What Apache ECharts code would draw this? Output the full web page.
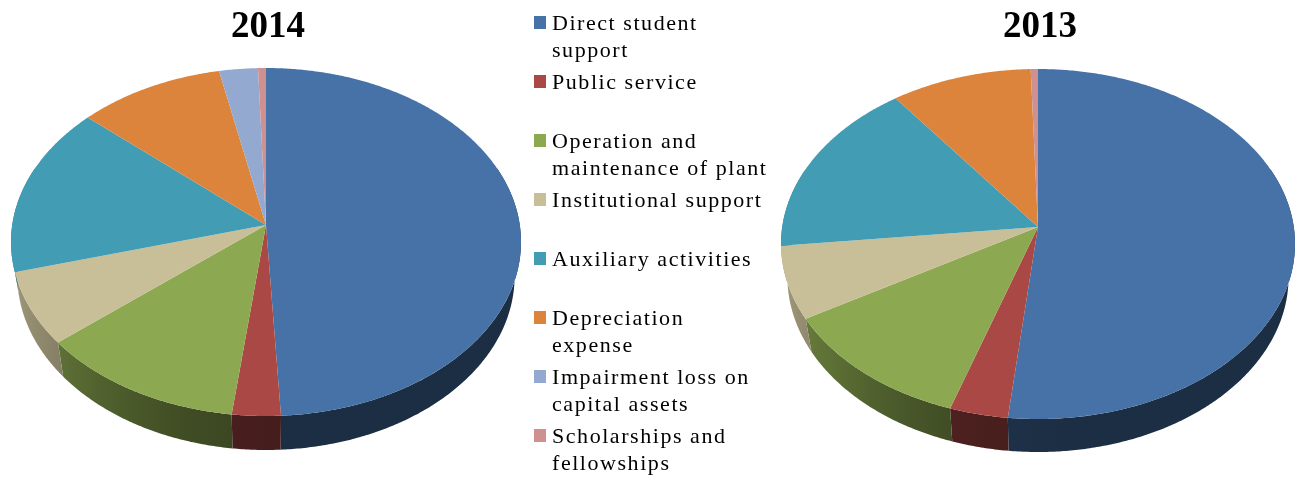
<!DOCTYPE html>
<html><head><meta charset="utf-8">
<style>html,body{margin:0;padding:0;background:#fff}#c{width:1301px;height:477px}</style>
<script src="https://cdn.jsdelivr.net/npm/echarts@6/dist/echarts.min.js"></script>
</head><body><div id="c"></div>
<script>
const categories = ['Direct student support','Public service','Operation and maintenance of plant','Institutional support','Auxiliary activities','Depreciation expense','Impairment loss on capital assets','Scholarships and fellowships'];
const legendLabels = ['Direct student\nsupport','Public service\n ','Operation and\nmaintenance of plant','Institutional support\n ','Auxiliary activities\n ','Depreciation\nexpense','Impairment loss on\ncapital assets','Scholarships and\nfellowships'];
const years = ['2014','2013'];
const values2014 = [49.15,2.8,12.0,6.75,15.85,10.2,2.7,0.55];
const values2013 = [51.7,3.35,11.55,6.7,16.45,9.75,0,0.5];
const colors = ['#4672a8','#a94845','#8ca850','#c8bf98','#429db4','#dd843c','#94a9d0','#cf9090'];
const yearValues = [values2014, values2013];
// geometry of each pie: ellipse apex (ax, ay), half width, upper/lower half heights, wall depth
const pies = [
  {ax:266, ay:225, rx:255, up:157, down:191, depth:34},
  {ax:1038, ay:227, rx:257, up:158, down:192, depth:33}
];
const legendFontSize = 22, legendTracking = '1.55px';
// the legend lettering of the reference is widely tracked: apply it to that font only
(function(){
  const proto=CanvasRenderingContext2D.prototype, d=Object.getOwnPropertyDescriptor(proto,'font');
  Object.defineProperty(proto,'font',{configurable:true,get(){return d.get.call(this);},
    set(v){d.set.call(this,v); this.letterSpacing=String(v).indexOf(legendFontSize+'px')>=0?legendTracking:'0px';}});
})();
function project(p, deg){
  // perspective projection of a circle onto the tilted pie top
  const k=(p.down-p.up)/(p.down+p.up), sy=p.down*(1-k), sx=p.rx*Math.sqrt(1-k*k);
  const t=deg*Math.PI/180, u=Math.sin(t), v=-Math.cos(t), w=1-k*v;
  return [p.ax+sx*u/w, p.ay+sy*v/w];
}
function shade(hex,f){
  const n=parseInt(hex.slice(1),16);
  return 'rgb('+[(n>>16)&255,(n>>8)&255,n&255].map(c=>Math.round(c*f)).join(',')+')';
}
function wallFactor(p,x){
  const n=(x-p.ax)/p.rx;
  return n<0 ? 0.42-0.42*n*Math.abs(n)*0.9 : 0.40;
}
function renderSlice(params, api){
  const d=params.dataIndex, s=params.seriesIndex, vals=yearValues[d], p=pies[d];
  const total=vals.reduce((a,b)=>a+b,0);
  let before=0; for(let i=0;i<s;i++) before+=vals[i];
  const a0=before/total*360, a1=(before+api.value(1))/total*360;
  if(a1<=a0) return {type:'group',children:[]};
  const arc=[]; const steps=Math.max(2,Math.ceil((a1-a0)*2));
  for(let i=0;i<=steps;i++) arc.push(project(p,a0+(a1-a0)*i/steps));
  const children=[];
  // side wall: drawn beneath all tops; the lower rim is slightly narrower so it tapers out at the sides
  const w0=Math.max(a0,70), w1=Math.min(a1,290);
  if(w1>w0){
    const top=[],n=Math.max(2,Math.ceil((w1-w0)*2));
    for(let i=0;i<=n;i++) top.push(project(p,w0+(w1-w0)*i/n));
    const bottom=top.map(q=>[p.ax+(q[0]-p.ax)*0.975,q[1]+p.depth]).reverse();
    const xs=top.map(q=>q[0]), minX=Math.min(...xs), maxX=Math.max(...xs);
    const stops=[0,.25,.5,.75,1].map(o=>({offset:o,color:shade(colors[s],wallFactor(p,minX+(maxX-minX)*o))}));
    children.push({type:'polygon',z2:1,shape:{points:top.concat(bottom)},
      style:{fill:new echarts.graphic.LinearGradient(minX,0,Math.max(maxX,minX+1),0,stops,true)},silent:true});
  }
  children.push({type:'polygon',z2:2,shape:{points:[[p.ax,p.ay]].concat(arc)},style:{fill:colors[s]},silent:true});
  return {type:'group',children};
}
const chart=echarts.init(document.getElementById('c'),null,{renderer:'canvas'});
chart.setOption({
  animation:false,
  backgroundColor:'#fff',
  title:years.map((y,i)=>({text:y,left:i?1035:263,top:4,textAlign:'center',
    textStyle:{fontFamily:'Liberation Serif',fontWeight:'bold',fontSize:37,color:'#000'}})),
  legend:{orient:'vertical',left:534,top:10.5,height:470,padding:0,itemWidth:12,itemHeight:54,itemGap:5,
    icon:'path://M0 5.5H12V18.5H0ZM0 0L12 0ZM0 54L12 54Z',
    data:categories,selectedMode:false,
    formatter:n=>legendLabels[categories.indexOf(n)],
    textStyle:{fontFamily:'Liberation Serif',fontSize:legendFontSize,lineHeight:27,color:'#000',padding:[0,0,0,1]}},
  series:categories.map((c,i)=>({
    type:'custom',name:c,coordinateSystem:'none',renderItem:renderSlice,
    itemStyle:{color:colors[i]},
    data:years.map((y,j)=>[j,yearValues[j][i]])
  }))
});
</script></body></html>
